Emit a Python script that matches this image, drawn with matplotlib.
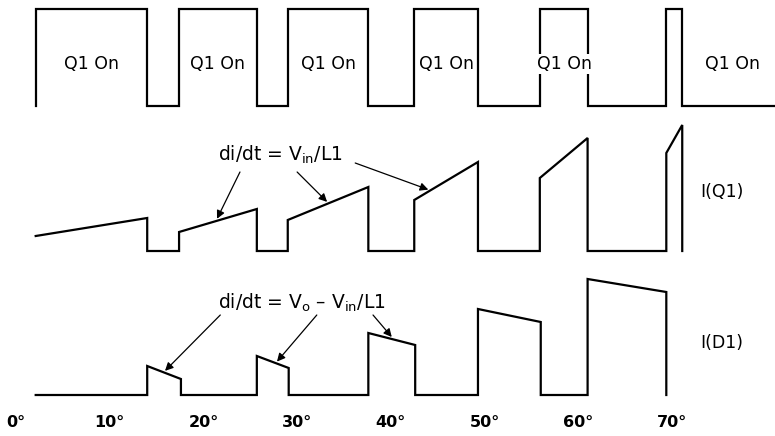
import matplotlib.pyplot as plt
import numpy as np

# --- data (x in degrees, y in arbitrary units) ---
# Q1 gate: 1 = on, 0 = off
sw_x = [2.1, 2.1, 14.0, 14.0, 17.4, 17.4, 25.7, 25.7, 29.0, 29.0, 37.6, 37.6,
        42.5, 42.5, 49.3, 49.3, 55.9, 55.9, 61.0, 61.0, 69.4, 69.4, 71.1, 71.1, 81.0]
sw_y = [0, 1, 1, 0, 0, 1, 1, 0, 0, 1, 1, 0,
        0, 1, 1, 0, 0, 1, 1, 0, 0, 1, 1, 0, 0]

# I(Q1)
iq_x = [2.1, 14.0, 14.0, 17.4, 17.4, 25.7, 25.7, 29.0, 29.0, 37.6, 37.6,
        42.5, 42.5, 49.3, 49.3, 55.9, 55.9, 61.0, 61.0, 69.4, 69.4, 71.1, 71.1]
iq_y = [1.5, 3.3, 0, 0, 1.9, 4.2, 0, 0, 3.1, 6.4, 0,
        0, 5.1, 8.9, 0, 0, 7.3, 11.3, 0, 0, 9.8, 12.6, 0]

# I(D1)
id_x = [2.1, 14.0, 14.0, 17.6, 17.6, 25.7, 25.7, 29.1, 29.1, 37.6, 37.6,
        42.6, 42.6, 49.3, 49.3, 56.0, 56.0, 61.0, 61.0, 69.4, 69.4]
id_y = [0, 0, 2.9, 1.6, 0, 0, 3.9, 2.7, 0, 0, 6.2,
        5.0, 0, 0, 8.6, 7.3, 0, 0, 11.6, 10.3, 0]

on_label_x = [8.1, 21.5, 33.3, 45.9, 58.5, 76.5]
tick_deg = [0, 10, 20, 30, 40, 50, 60, 70]

# arrow targets (degrees along the ramps)
q_arrow_tips = [21.45, 33.2, 44.0]
d_arrow_tips = [15.9, 27.85, 40.1]

# --- layout (vertical placement of traces) ---
SW_LOW, SW_HIGH = 106, 9
IQ_BASE, ID_BASE, SCALE = 251, 395, 10

def sw_pos(v):
    return SW_LOW - np.asarray(v) * (SW_LOW - SW_HIGH)

def iq_pos(v):
    return IQ_BASE - np.asarray(v) * SCALE

def id_pos(v):
    return ID_BASE - np.asarray(v) * SCALE

fig = plt.figure(figsize=(7.75, 4.36), dpi=100)
ax = fig.add_axes([0, 0, 1, 1])
ax.set_xlim(-1.71, 81.0)
ax.set_ylim(436, 0)
ax.axis('off')

lw = 1.6
ax.plot(sw_x, sw_pos(sw_y), color='black', lw=lw, solid_joinstyle='miter', zorder=1)
ax.plot(iq_x, iq_pos(iq_y), color='black', lw=lw, solid_joinstyle='miter')
ax.plot(id_x, id_pos(id_y), color='black', lw=lw, solid_joinstyle='miter')

for x in on_label_x:
    ax.text(x, 64, 'Q1 On', ha='center', va='center', fontsize=12.5,
            bbox=dict(facecolor='white', edgecolor='none', pad=1.0), zorder=3)

ax.text(73.0, 192, 'I(Q1)', ha='left', va='center', fontsize=12.5)
ax.text(73.0, 343, 'I(D1)', ha='left', va='center', fontsize=12.5)

ax.text(21.6, 155, r'di/dt = V$_\mathregular{in}$/L1', ha='left', va='center', fontsize=13.5)
ax.text(21.6, 303, r'di/dt = V$_\mathregular{o}$ – V$_\mathregular{in}$/L1',
        ha='left', va='center', fontsize=13.5)

arrow = dict(arrowstyle='-|>', color='black', lw=0.9, mutation_scale=12,
             shrinkA=0, shrinkB=0)
q_starts = [(23.9, 172), (30.0, 172), (36.2, 163)]
for (sx, sy), tx in zip(q_starts, q_arrow_tips):
    ty = np.interp(tx, iq_x, iq_pos(iq_y)) - 2
    ax.annotate('', xy=(tx, ty), xytext=(sx, sy), arrowprops=arrow)

d_starts = [(21.8, 315), (32.1, 315), (38.1, 315)]
for (sx, sy), tx in zip(d_starts, d_arrow_tips):
    ty = np.interp(tx, id_x, id_pos(id_y)) - 2
    ax.annotate('', xy=(tx, ty), xytext=(sx, sy), arrowprops=arrow)

for d in tick_deg:
    ax.text(d, 422, '%d°' % d, ha='center', va='center', fontsize=11.5, fontweight='bold')

fig.savefig('out.png', dpi=100)
